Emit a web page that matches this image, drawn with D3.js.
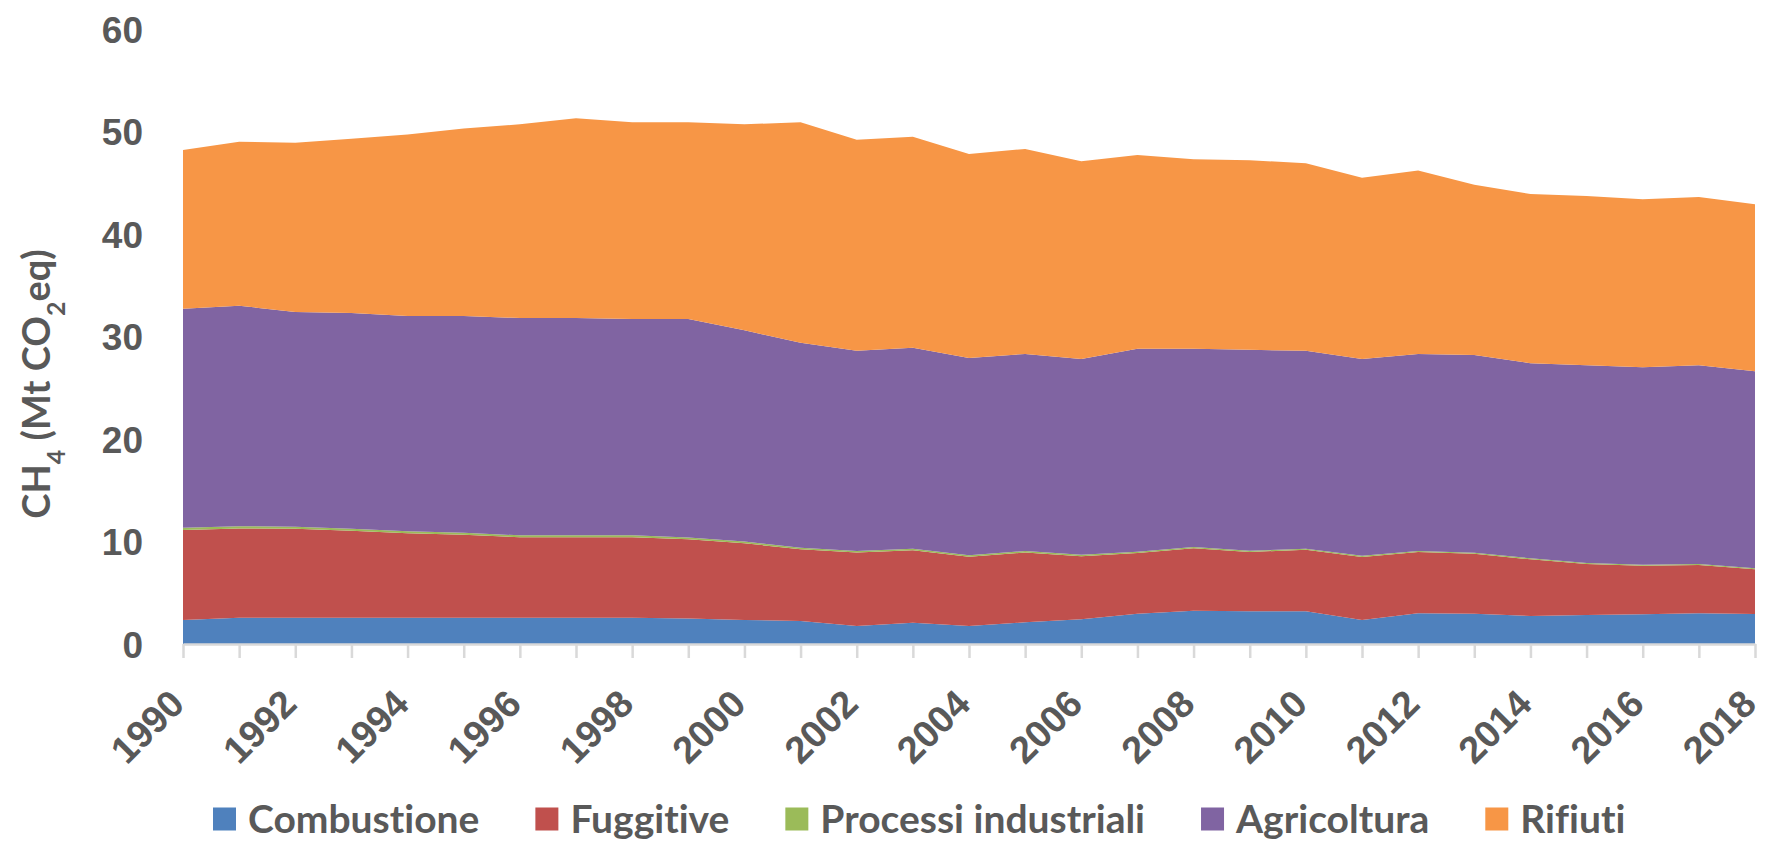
<!DOCTYPE html>
<html>
<head>
<meta charset="utf-8">
<script src="https://cdn.jsdelivr.net/npm/d3@7"></script>
<style>
  html, body { margin: 0; padding: 0; background: #fff; }
  svg { display: block; font-family: Lato, "Open Sans", sans-serif; font-weight: 700; font-variant-ligatures: none; }
  .y-axis text, .x-axis text, .legend text, .axis-title { fill: #595959; }
</style>
</head>
<body>
<div id="chart"></div>
<script>
// CH4 emissions by sector, Mt CO2eq
const years = [1990, 1991, 1992, 1993, 1994, 1995, 1996, 1997, 1998, 1999, 2000, 2001, 2002, 2003, 2004,
  2005, 2006, 2007, 2008, 2009, 2010, 2011, 2012, 2013, 2014, 2015, 2016, 2017, 2018];
const combustione = [2.34, 2.57, 2.57, 2.57, 2.57, 2.57, 2.57, 2.57, 2.57, 2.5, 2.34, 2.24, 1.76, 2.08, 1.76,
  2.11, 2.41, 2.96, 3.25, 3.19, 3.19, 2.34, 3.0, 2.96, 2.73, 2.83, 2.9, 3.0, 2.93];
const fuggitive = [8.79, 8.71, 8.67, 8.47, 8.23, 8.09, 7.84, 7.84, 7.85, 7.72, 7.49, 7.0, 7.16, 7.07, 6.75,
  6.82, 6.16, 5.91, 6.09, 5.79, 6.0, 6.15, 5.97, 5.84, 5.53, 4.97, 4.74, 4.7, 4.37];
const processi = [0.22, 0.22, 0.21, 0.21, 0.2, 0.2, 0.19, 0.19, 0.18, 0.18, 0.17, 0.16, 0.15, 0.15, 0.14,
  0.14, 0.13, 0.13, 0.12, 0.12, 0.11, 0.11, 0.1, 0.1, 0.1, 0.1, 0.1, 0.1, 0.1];
const agricoltura = [21.35, 21.5, 20.95, 21.05, 21.0, 21.14, 21.2, 21.2, 21.1, 21.3, 20.6, 20.0, 19.53, 19.6, 19.25,
  19.23, 19.1, 19.8, 19.34, 19.6, 19.3, 19.2, 19.23, 19.3, 19.04, 19.3, 19.26, 19.4, 19.2];
const rifiuti = [15.5, 16.0, 16.5, 17.0, 17.7, 18.3, 18.9, 19.5, 19.2, 19.2, 20.1, 21.5, 20.6, 20.6, 19.9,
  20.0, 19.3, 18.9, 18.5, 18.5, 18.3, 17.7, 17.9, 16.6, 16.5, 16.5, 16.4, 16.4, 16.3];

const seriesKeys = ["combustione", "fuggitive", "processi", "agricoltura", "rifiuti"];
const seriesLabels = ["Combustione", "Fuggitive", "Processi industriali", "Agricoltura", "Rifiuti"];
const seriesColors = ["#4F81BD", "#C0504D", "#9BBB59", "#8064A2", "#F79646"];
const yTicks = [0, 10, 20, 30, 40, 50, 60];

const WIDTH = 1765;
const HEIGHT = 842;
const MARGIN = { top: 29, right: 10, bottom: 198, left: 183 };

const rows = years.map((year, i) => ({
  year,
  combustione: combustione[i],
  fuggitive: fuggitive[i],
  processi: processi[i],
  agricoltura: agricoltura[i],
  rifiuti: rifiuti[i],
}));

const svg = d3
  .select("#chart")
  .append("svg")
  .attr("width", WIDTH)
  .attr("height", HEIGHT);

const x = d3.scaleLinear().domain(d3.extent(years)).range([MARGIN.left, WIDTH - MARGIN.right]);
const y = d3.scaleLinear().domain([0, 60]).range([HEIGHT - MARGIN.bottom, MARGIN.top]);

const series = d3.stack().keys(seriesKeys)(rows);

const area = d3
  .area()
  .x((d) => x(d.data.year))
  .y0((d) => y(d[0]))
  .y1((d) => y(d[1]));

svg
  .append("g")
  .attr("class", "areas")
  .selectAll("path")
  .data(series)
  .join("path")
  .attr("d", area)
  .attr("fill", (d, i) => seriesColors[i]);

// x axis: tick every year, label every other year
const xAxis = svg
  .append("g")
  .attr("class", "x-axis")
  .attr("transform", `translate(0,${HEIGHT - MARGIN.bottom})`)
  .call(
    d3
      .axisBottom(x)
      .tickValues(years)
      .tickSize(14)
      .tickSizeOuter(0)
      .tickFormat((d) => (d % 2 === 0 ? d : ""))
  );

xAxis.select(".domain").attr("stroke", "#d9d9d9").attr("stroke-width", 2.5);
xAxis.selectAll(".tick line").attr("stroke", "#d9d9d9").attr("stroke-width", 2.5);
xAxis
  .selectAll(".tick text")
  .attr("y", null)
  .attr("dy", null)
  .attr("text-anchor", "end")
  .attr("transform", "translate(3,62) rotate(-45)")
  .style("font-size", "38px");

const yAxis = svg
  .append("g")
  .attr("class", "y-axis")
  .attr("transform", `translate(${MARGIN.left},0)`)
  .call(d3.axisLeft(y).tickValues(yTicks).tickSize(0).tickPadding(40));

yAxis.select(".domain").remove();
yAxis.selectAll(".tick text").style("font-size", "37px").attr("dy", "0.36em");

const title = svg
  .append("text")
  .attr("class", "axis-title")
  .attr("transform", `translate(50,384) rotate(-90)`)
  .attr("text-anchor", "middle")
  .style("font-size", "38px");

title.append("tspan").text("CH");
title.append("tspan").attr("baseline-shift", "sub").style("font-size", "25px").text("4");
title.append("tspan").text(" (Mt CO");
title.append("tspan").attr("baseline-shift", "sub").style("font-size", "25px").text("2");
title.append("tspan").text("eq)");

// legend, laid out left to right
const legend = svg.append("g").attr("class", "legend").attr("transform", `translate(213,819)`);
let cursor = 0;
seriesLabels.forEach((label, i) => {
  const g = legend.append("g").attr("transform", `translate(${cursor},0)`);
  g.append("rect").attr("x", 0).attr("y", -11.5).attr("width", 23).attr("height", 23).attr("fill", seriesColors[i]);
  const t = g
    .append("text")
    .attr("x", 35)
    .attr("dy", "0.36em")
    .style("font-size", "39px")
    .text(label);
  cursor += 35 + t.node().getComputedTextLength() + 56;
});
</script>
</body>
</html>
